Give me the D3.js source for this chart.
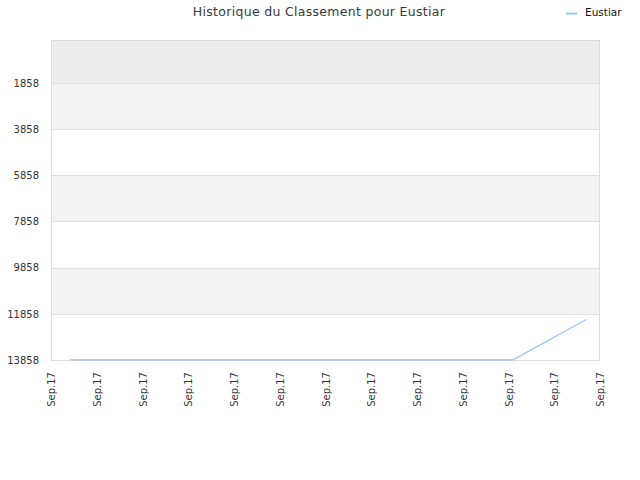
<!DOCTYPE html>
<html>
<head>
<meta charset="utf-8">
<script src="https://cdn.jsdelivr.net/npm/d3@7"></script>
<style>
  body { margin: 0; background: #fff; }
  svg, svg text { font-family: "DejaVu Sans", sans-serif; }
</style>
</head>
<body>
<svg id="chart" width="640" height="480"></svg>
<script>
// chart data
var title = 'Historique du Classement pour Eustiar';
var series_name = 'Eustiar';
var x_labels = ['Sep.17', 'Sep.17', 'Sep.17', 'Sep.17', 'Sep.17', 'Sep.17', 'Sep.17',
	'Sep.17', 'Sep.17', 'Sep.17', 'Sep.17', 'Sep.17', 'Sep.17'];
var y_ticks = [1858, 3858, 5858, 7858, 9858, 11858, 13858];
// position of each point along the x axis, in tick steps
var rank_x = [0.42, 10.1, 11.7];
var rank_y = [13850, 13850, 12100];
// alternating background bands [from, to, colour]
var band_from = [0, 1858, 5858, 9858];
var band_to = [1858, 3858, 7858, 11858];
var band_fill = ['#ededed', '#f3f3f3', '#f3f3f3', '#f3f3f3'];

var svg = d3.select('#chart');
var margin = {top: 40, right: 40, bottom: 120, left: 51};
var width = 640 - margin.left - margin.right;
var height = 480 - margin.top - margin.bottom;

var x = d3.scaleLinear().domain([0, x_labels.length - 1]).range([0, width]);
var y = d3.scaleLinear().domain([0, 13858]).range([0, height]);

var g = svg.append('g').attr('transform', 'translate(' + margin.left + ',' + margin.top + ')');

g.selectAll('rect.band')
	.data(band_from)
	.enter().append('rect')
	.attr('class', 'band')
	.attr('x', 0)
	.attr('width', width)
	.attr('y', function(d) { return y(d); })
	.attr('height', function(d, i) { return y(band_to[i]) - y(d); })
	.attr('fill', function(d, i) { return band_fill[i]; });

// horizontal grid lines
g.selectAll('line.grid')
	.data(y_ticks)
	.enter().append('line')
	.attr('x1', 0).attr('x2', width)
	.attr('y1', function(d) { return Math.round(y(d)) + 0.5; })
	.attr('y2', function(d) { return Math.round(y(d)) + 0.5; })
	.attr('stroke', '#e0e0e0');

// plot border
g.append('rect')
	.attr('x', 0.5).attr('y', 0.5)
	.attr('width', width - 1).attr('height', height)
	.attr('fill', 'none')
	.attr('stroke', '#dcdcdc');

var y_axis = d3.axisLeft(y).tickValues(y_ticks).tickSize(0).tickPadding(12).tickFormat(d3.format('d'));
g.append('g').call(y_axis)
	.attr('font-family', null)
	.call(function(a) { a.select('.domain').remove(); })
	.selectAll('text')
	.attr('fill', '#333')
	.style('font-size', '10px');

var x_axis = d3.axisBottom(x)
	.tickValues(d3.range(x_labels.length))
	.tickFormat(function(d) { return x_labels[d]; })
	.tickSize(0);
g.append('g')
	.attr('transform', 'translate(0,' + height + ')')
	.call(x_axis)
	.attr('font-family', null)
	.call(function(a) { a.select('.domain').remove(); })
	.selectAll('text')
	.attr('fill', '#333')
	.style('font-size', '10px')
	.attr('text-anchor', 'end')
	.attr('transform', 'rotate(-90)')
	.attr('x', -12)
	.attr('y', 0)
	.attr('dy', '0.35em');

var line = d3.line()
	.x(function(d) { return x(d); })
	.y(function(d, i) { return y(rank_y[i]); });

g.append('path')
	.datum(rank_x)
	.attr('d', line)
	.attr('fill', 'none')
	.attr('stroke', '#99c4f2')
	.attr('stroke-width', 1.2);

svg.append('text')
	.attr('x', 319).attr('y', 16)
	.attr('text-anchor', 'middle')
	.attr('fill', '#3a3a3a')
	.style('font-size', '12.5px')
	.style('letter-spacing', '0.3px')
	.text(title);

// legend
svg.append('line')
	.attr('x1', 566).attr('x2', 577)
	.attr('y1', 13.5).attr('y2', 13.5)
	.attr('stroke', '#99c4f2').attr('stroke-width', 2);
svg.append('text')
	.attr('x', 585).attr('y', 16)
	.attr('fill', '#111')
	.style('font-size', '10.5px')
	.text(series_name);
</script>
</body>
</html>
